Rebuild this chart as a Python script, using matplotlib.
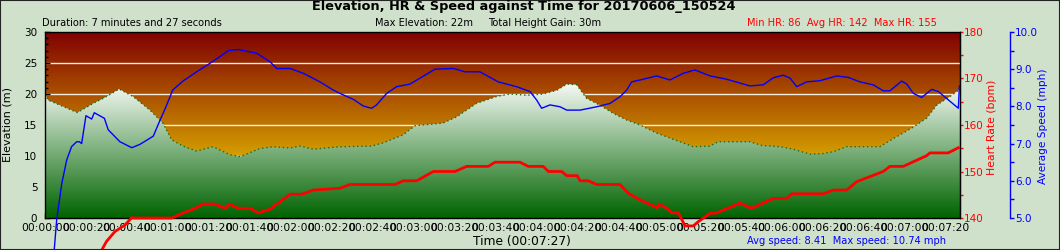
import numpy as np
import matplotlib
matplotlib.use('Agg')
import matplotlib.pyplot as plt
from matplotlib.colors import LinearSegmentedColormap
from matplotlib.patches import Rectangle, Polygon
import matplotlib.ticker as mticker

# ---------------- data ----------------
duration_s = 447

elev_t = [0, 1.6, 7.3, 15.8, 23.6, 28.5, 36.2, 43, 51.3, 57.6, 61.9, 67.4, 74.1, 82.1, 90.4,
          95.3, 105, 111.4, 119.7, 124.6, 131, 144, 159.6, 165, 174.9, 180.8, 194.4, 201, 210.9,
          220.7, 227.2, 235.3, 243.3, 250, 254.9, 259.7, 264.6, 271.1, 277.5, 284.2, 290.7, 298.8,
          306.9, 316.7, 324.9, 328.9, 344.4, 350.1, 359.1, 365.6, 373.7, 380.2, 385.1, 391.6,
          407.9, 414.4, 423.4, 430.7, 435.6, 442.1, 447]
elev_m = [20.0, 19.0, 18.2, 17.0, 18.5, 19.3, 20.8, 19.6, 17.4, 15.3, 12.6, 11.6, 10.8, 11.5, 10.2,
          9.9, 11.2, 11.5, 11.3, 11.6, 11.1, 11.5, 11.6, 12.1, 13.4, 14.9, 15.3, 16.3, 18.5,
          19.6, 20.0, 19.8, 20.0, 20.6, 21.6, 21.5, 19.3, 18.2, 16.9, 15.8, 15.0, 13.7,
          12.7, 11.5, 11.6, 12.3, 12.3, 11.7, 11.5, 11.1, 10.3, 10.4, 10.7, 11.5,
          11.5, 12.8, 14.5, 16.1, 18.2, 19.6, 20.8]

speed_t = [4.0, 4.5, 5.7, 8.2, 8.9, 10.6, 13.0, 15.5, 16.8, 17.9, 20.0, 22.8, 24.1, 29.0, 30.9,
           36.6, 42.4, 46.4, 52.9, 56.2, 59.1, 62.4, 67.6, 74.1, 80.6, 85.5, 89.5, 94.4, 103.4,
           109.9, 113.2, 119.7, 126.2, 134.3, 140.8, 144.1, 150.6, 155.5, 159.6, 162.0, 166.9,
           171.8, 178.3, 183.2, 190.5, 199.5, 205.2, 212.5, 221.4, 230.4, 236.9, 240.2, 242.6,
           246.7, 251.6, 254.9, 261.4, 269.5, 276.0, 280.9, 284.2, 286.6, 290.7, 298.8, 305.3,
           311.8, 317.5, 324.9, 333.0, 344.4, 350.9, 355.8, 360.7, 364.0, 367.2, 372.1, 378.6,
           386.8, 392.4, 398.1, 404.6, 409.5, 412.8, 418.5, 421.0, 424.2, 428.3, 433.2, 436.4,
           446.2, 446.7]
speed_mph = [3.5, 4.14, 4.95, 5.93, 6.11, 6.56, 6.92, 7.05, 7.05, 7.0, 7.75, 7.66, 7.83, 7.68, 7.37,
             7.05, 6.89, 6.98, 7.2, 7.63, 7.99, 8.44, 8.69, 8.93, 9.16, 9.34, 9.5, 9.53, 9.43,
             9.2, 9.02, 9.02, 8.89, 8.66, 8.44, 8.35, 8.19, 8.01, 7.95, 8.04, 8.35,
             8.53, 8.6, 8.76, 9.0, 9.02, 8.93, 8.93, 8.66, 8.53, 8.4, 8.17, 7.95,
             8.04, 7.99, 7.9, 7.9, 7.99, 8.08, 8.26, 8.44, 8.66, 8.71, 8.82, 8.71,
             8.89, 8.98, 8.82, 8.73, 8.55, 8.58, 8.77, 8.84, 8.76, 8.53, 8.66, 8.69,
             8.82, 8.78, 8.66, 8.58, 8.42, 8.42, 8.68, 8.6, 8.35, 8.24, 8.46, 8.4,
             7.95, 8.55]

hr_t = [26.5, 27.7, 30.1, 34.2, 39.1, 42.4, 43.1, 61.9, 67.6, 72.4, 77.3, 83.0, 87.9, 90.0, 94.4,
        100.1, 104.2, 109.9, 114.8, 119.7, 125.4, 131.1, 144.1, 149.0, 171.0, 175.0, 181.6,
        189.7, 200.3, 206.0, 216.6, 219.8, 232.0, 236.1, 243.4, 245.9, 252.4, 254.9, 260.0,
        261.4, 265.4, 269.5, 280.9, 285.0, 290.7, 298.2, 298.8, 299.9, 303.7, 306.2, 309.4,
        312.7, 316.7, 319.1, 324.9, 328.1, 339.5, 345.2, 355.8, 362.3, 364.8, 380.2, 385.1,
        391.6, 396.5, 403.0, 409.5, 412.8, 419.3, 424.2, 430.7, 432.3, 441.2, 446.2]
hr_bpm = [131.5, 133.1, 135.0, 137.1, 138.5, 140.1, 140.0, 140.0, 141.1, 141.9, 143.0, 143.0, 142.1, 143.0, 142.1,
          142.1, 141.1, 141.9, 143.5, 145.1, 145.1, 146.0, 146.4, 147.2, 147.2, 148.0, 148.0,
          150.0, 150.0, 151.1, 151.1, 152.0, 152.0, 151.1, 151.1, 150.0, 150.0, 149.1, 149.1,
          148.0, 148.0, 147.2, 147.2, 145.3, 143.9, 142.4, 142.1, 143.0, 142.1, 141.1, 141.1,
          138.3, 138.3, 139.2, 141.0, 141.1, 143.2, 142.1, 144.2, 144.2, 145.2, 145.2, 146.0,
          146.0, 147.8, 148.9, 150.0, 151.1, 151.1, 152.1, 153.4, 154.0, 154.0, 155.1]

title = "Elevation, HR & Speed against Time for 20170606_150524"
info_left = "Duration: 7 minutes and 27 seconds"
info_elev = "Max Elevation: 22m"
info_gain = "Total Height Gain: 30m"
info_hr = "Min HR: 86  Avg HR: 142  Max HR: 155"
info_speed = "Avg speed: 8.41  Max speed: 10.74 mph"
xlabel = "Time (00:07:27)"

# ---------------- figure ----------------
W, H = 1060, 250
fig = plt.figure(figsize=(W / 100, H / 100), dpi=100, facecolor='#cfe0cb')
ax = fig.add_axes([45 / W, 32 / H, 915 / W, 186 / H])
ax.set_facecolor((0.85, 0.65, 0.0))

# background gradient (dark red -> gold)
bg = np.linspace(0, 1, 256).reshape(-1, 1)
cmap_bg = LinearSegmentedColormap.from_list('bg', [(0.50, 0.0, 0.0), (0.85, 0.65, 0.0)])
ax.imshow(bg, extent=[0, duration_s, 9, 30], origin='upper', aspect='auto',
          cmap=cmap_bg, zorder=0, interpolation='bilinear')

# grid lines
for g in [5, 10, 15, 20, 25]:
    ax.axhline(g, color='#f4efe0', lw=1.0, zorder=1)

# elevation gradient fill
cmap_g = LinearSegmentedColormap.from_list('gr', [(0.98, 0.99, 0.98), (0.0, 0.39, 0.0)])
gr = np.linspace(0, 1, 256).reshape(-1, 1)
verts = [(elev_t[0], 0)] + list(zip(elev_t, elev_m)) + [(elev_t[-1], 0)]
poly = Polygon(verts, closed=True, facecolor='none', edgecolor='none')
ax.add_patch(poly)
im = ax.imshow(gr, extent=[0, duration_s, 0, 22], origin='upper', aspect='auto',
               cmap=cmap_g, zorder=2, interpolation='bilinear')
im.set_clip_path(poly)
ax.plot(elev_t, elev_m, color='#1f6a1a', lw=1.0, ls=(0, (1, 2)), zorder=2.5)

ax.set_xlim(0, duration_s)
ax.set_ylim(0, 30)

# x ticks
def fmt_time(v, pos):
    v = int(round(v))
    return "00:%02d:%02d" % (v // 60, v % 60)
ax.xaxis.set_major_locator(mticker.MultipleLocator(20))
ax.xaxis.set_minor_locator(mticker.MultipleLocator(10))
ax.xaxis.set_major_formatter(mticker.FuncFormatter(fmt_time))
ax.tick_params(axis='x', which='both', direction='in', length=3.6, width=1, pad=3.4,
               labelsize=7.7, top=False)
# left y ticks
ax.yaxis.set_major_locator(mticker.MultipleLocator(5))
ax.yaxis.set_minor_locator(mticker.MultipleLocator(1))
ax.tick_params(axis='y', which='major', direction='in', length=3.5, width=1, pad=5.5,
               labelsize=7.5, right=False)
ax.tick_params(axis='y', which='minor', direction='in', length=2.5, width=1, right=False)
for s in ax.spines.values():
    s.set_color('black')
    s.set_linewidth(1.0)
    s.set_zorder(10)

# heart rate axis
ax2 = ax.twinx()
ax2.set_ylim(140, 180)
ax2.yaxis.set_major_locator(mticker.MultipleLocator(10))
ax2.yaxis.set_minor_locator(mticker.MultipleLocator(5))
ax2.tick_params(axis='y', which='major', direction='out', length=2.5, width=1,
                colors='#ff0000', labelsize=7.5, pad=0.5)
ax2.tick_params(axis='y', which='minor', direction='out', length=2.5, width=1, colors='#ff0000')
for k in ['top', 'bottom', 'left']:
    ax2.spines[k].set_visible(False)
ax2.spines['right'].set_color('black')

# speed axis
ax3 = ax.twinx()
ax3.set_ylim(5, 10)
ax3.spines['right'].set_position(('outward', 36))
ax3.spines['right'].set_color('#0000ff')
ax3.spines['right'].set_linewidth(1.0)
for k in ['top', 'bottom', 'left']:
    ax3.spines[k].set_visible(False)
ax3.yaxis.set_major_locator(mticker.MultipleLocator(1))
ax3.yaxis.set_minor_locator(mticker.MultipleLocator(0.5))
ax3.yaxis.set_major_formatter(mticker.FormatStrFormatter('%.1f'))
ax3.tick_params(axis='y', which='both', direction='out', length=3.1, width=1,
                colors='#0000ff', labelsize=7.5, pad=0.5)

# lines
ax3.plot(speed_t, speed_mph, color='#0000ff', lw=1.0, zorder=5, clip_on=False)
ax2.plot(hr_t, hr_bpm, color='#ff0000', lw=2.0, zorder=6, clip_on=False)

# axis labels
fig.text(8 / W, 1 - 125 / H, 'Elevation (m)', rotation=90, ha='center', va='center', fontsize=8)
fig.text(992 / W, 1 - 127.5 / H, 'Heart Rate (bpm)', rotation=90, ha='center', va='center',
         fontsize=7.8, color='#ff0000')
fig.text(1043 / W, 1 - 126.5 / H, 'Average Speed (mph)', rotation=90, ha='center', va='center',
         fontsize=7.6, color='#0000ff')

# header / footer texts
fig.text(524 / W, 1 - 10 / H, title, ha='center', va='baseline', fontsize=9.3, weight='bold')
fig.text(42 / W, 1 - 26.5 / H, info_left, ha='left', va='baseline', fontsize=7.1)
fig.text(375 / W, 1 - 26.5 / H, info_elev, ha='left', va='baseline', fontsize=7.1)
fig.text(488 / W, 1 - 26.5 / H, info_gain, ha='left', va='baseline', fontsize=7.1)
fig.text(747 / W, 1 - 26.5 / H, info_hr, ha='left', va='baseline', fontsize=7.1, color='#ff0000')
fig.text(473 / W, 1 - 245 / H, xlabel, ha='left', va='baseline', fontsize=8.8)
fig.text(747 / W, 1 - 244.5 / H, info_speed, ha='left', va='baseline', fontsize=7.1,
         color='#0000ff')

# outer frame
fig.add_artist(Rectangle((0, 0), 1, 1, transform=fig.transFigure, fill=False,
                         edgecolor='#222222', lw=1.5))

fig.savefig('out.png', dpi=100, facecolor=fig.get_facecolor())
